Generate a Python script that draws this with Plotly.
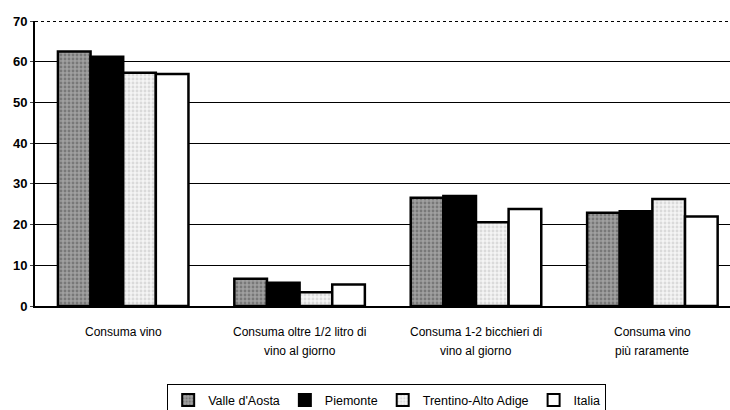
import plotly.graph_objects as go

categories = ["Consuma vino", "Consuma oltre 1/2 litro di<br>vino al giorno",
              "Consuma 1-2 bicchieri di<br>vino al giorno", "Consuma vino<br>più raramente"]
valle = [62.5, 6.7, 26.6, 22.9]
piemonte = [61.2, 5.7, 27.0, 23.3]
trentino = [57.3, 3.4, 20.6, 26.3]
italia = [57.0, 5.3, 23.8, 22.0]
y_ticks = [0, 10, 20, 30, 40, 50, 60, 70]

series = [
    ("Valle d'Aosta", valle, "#a0a0a0", ".", "#505050"),
    ("Piemonte", piemonte, "#000000", "", None),
    ("Trentino-Alto Adige", trentino, "#f4f4f4", ".", "#c0c0c0"),
    ("Italia", italia, "#ffffff", "", None),
]

fig = go.Figure()
for name, vals, col, pat, fg in series:
    marker = dict(color=col, line=dict(color="black", width=2.5))
    if pat:
        marker["pattern"] = dict(shape=pat, fgcolor=fg, size=4, solidity=0.4, fillmode="overlay")
    fig.add_trace(go.Bar(name=name, x=categories, y=vals, marker=marker))

# category labels as two-line annotations (wider line spacing than tick labels)
for cat in categories:
    lines = cat.split("<br>")
    for i, line in enumerate(lines):
        fig.add_annotation(x=cat, xref="x", y=0, yref="paper", text=line, showarrow=False,
                           yanchor="middle", yshift=-26 - 19 * i,
                           font=dict(size=12, family="Liberation Sans, Arial", color="black"))

fig.update_layout(
    width=730, height=410,
    margin=dict(l=35, r=0, t=21, b=104, autoexpand=False),
    barmode="group", bargap=0.26, bargroupgap=0,
    plot_bgcolor="white", paper_bgcolor="white",
    font=dict(family="Liberation Sans, Arial", color="black", size=12),
    showlegend=True,
    legend=dict(orientation="h", x=0.506, xanchor="center", y=-0.275, yanchor="top",
                bordercolor="black", borderwidth=1, font=dict(size=12.5),
                itemwidth=30, tracegroupgap=0,
                itemsizing="constant", traceorder="normal"),
    xaxis=dict(showline=True, linecolor="black", linewidth=2, ticks="", showticklabels=False,
               range=[-0.5, 3.44], automargin=False),
    yaxis=dict(range=[0, 70], tickvals=y_ticks, showgrid=True, gridcolor="black", gridwidth=1,
               showline=True, linecolor="black", linewidth=2, ticks="outside", ticklen=3,
               tickfont=dict(size=13, family="Liberation Sans, Arial", weight="bold"),
               zeroline=False, automargin=False),
)
fig.add_shape(type="line", xref="paper", yref="y", x0=0, x1=1, y0=70, y1=70,
              line=dict(color="black", width=2, dash="dot"))
fig.write_html("out.html", config={"displayModeBar": False},
               post_script="document.body.style.margin='0';document.body.style.overflow='hidden';")
